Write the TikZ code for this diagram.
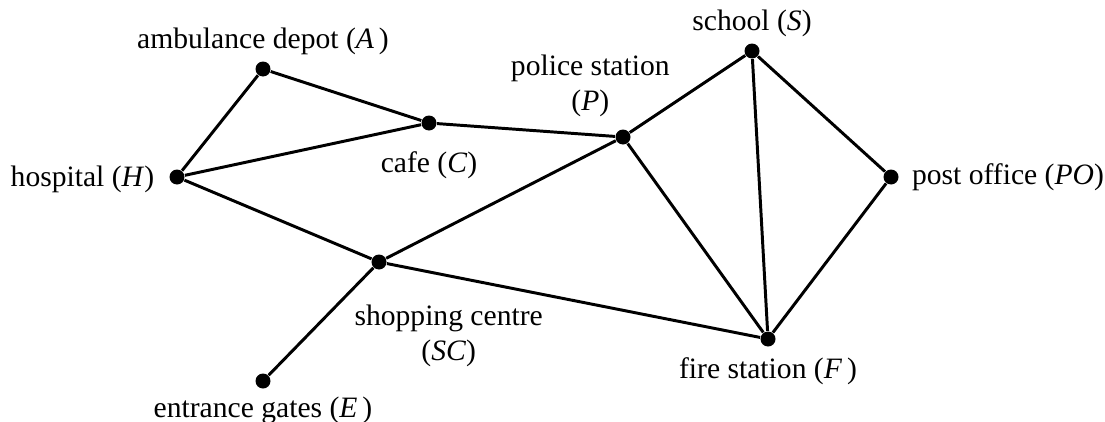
\documentclass[tikz,border=0pt]{standalone}
\usepackage{fontspec}
\setmainfont{Liberation Serif}
\usepackage{tikz}
\tikzstyle{site} = [circle, fill=black, inner sep=0pt, minimum size=0.178cm]
\tikzstyle{place} = [align=center]
\tikzstyle{road} = [line width=1pt]

\begin{document}
\begin{tikzpicture}[x=0.01187cm, y=-0.01187cm]

        \useasboundingbox (0,0) rectangle (1105,421);

        % the sites
        \node (amb)    [site] at (263,69)  {} ;
        \node (cafe)   [site] at (429,123) {} ;
        \node (hosp)   [site] at (177,177) {} ;
        \node (police) [site] at (623,137) {} ;
        \node (school) [site] at (752,51)  {} ;
        \node (post)   [site] at (891,177) {} ;
        \node (shop)   [site] at (379,262) {} ;
        \node (fire)   [site] at (768,339) {} ;
        \node (gates)  [site] at (263,381) {} ;

        % their names
        \node (ambname) [place, above of=amb, node distance=0.33cm]
            {ambulance depot (\textit{A}\,)} ;
        \node (schoolname) [place, above of=school, node distance=0.323cm]
            {school (\textit{S})} ;
        \node (policename)
            [place, above of=police, node distance=0.605cm, xshift=-0.388cm]
            {police station\\(\textit{P})} ;
        \node (cafename) [place, below of=cafe, node distance=0.507cm]
            {cafe (\textit{C})} ;
        \node (hospname)
            [place, left of=hosp, node distance=1.122cm, yshift=-0.033cm]
            {hospital (\textit{H})} ;
        \node (postname) [place, right of=post, node distance=1.389cm]
            {post office (\textit{PO})} ;
        \node (shopname)
            [place, below of=shop, node distance=0.878cm, xshift=0.827cm]
            {shopping centre\\(\textit{SC})} ;
        \node (firename) [place, below of=fire, node distance=0.38cm]
            {fire station (\textit{F}\,)} ;
        \node (gatesname) [place, below of=gates, node distance=0.344cm]
            {entrance gates (\textit{E}\,)} ;

        % roads
        \draw [road] (amb) -- (cafe) ;
        \draw [road] (amb) -- (hosp) ;
        \draw [road] (hosp) -- (cafe) ;
        \draw [road] (cafe) -- (police) ;
        \draw [road] (hosp) -- (shop) ;
        \draw [road] (shop) -- (police) ;
        \draw [road] (shop) -- (gates) ;
        \draw [road] (shop) -- (fire) ;
        \draw [road] (police) -- (school) ;
        \draw [road] (police) -- (fire) ;
        \draw [road] (school) -- (fire) ;
        \draw [road] (school) -- (post) ;
        \draw [road] (post) -- (fire) ;

    \end{tikzpicture}
\end{document}
